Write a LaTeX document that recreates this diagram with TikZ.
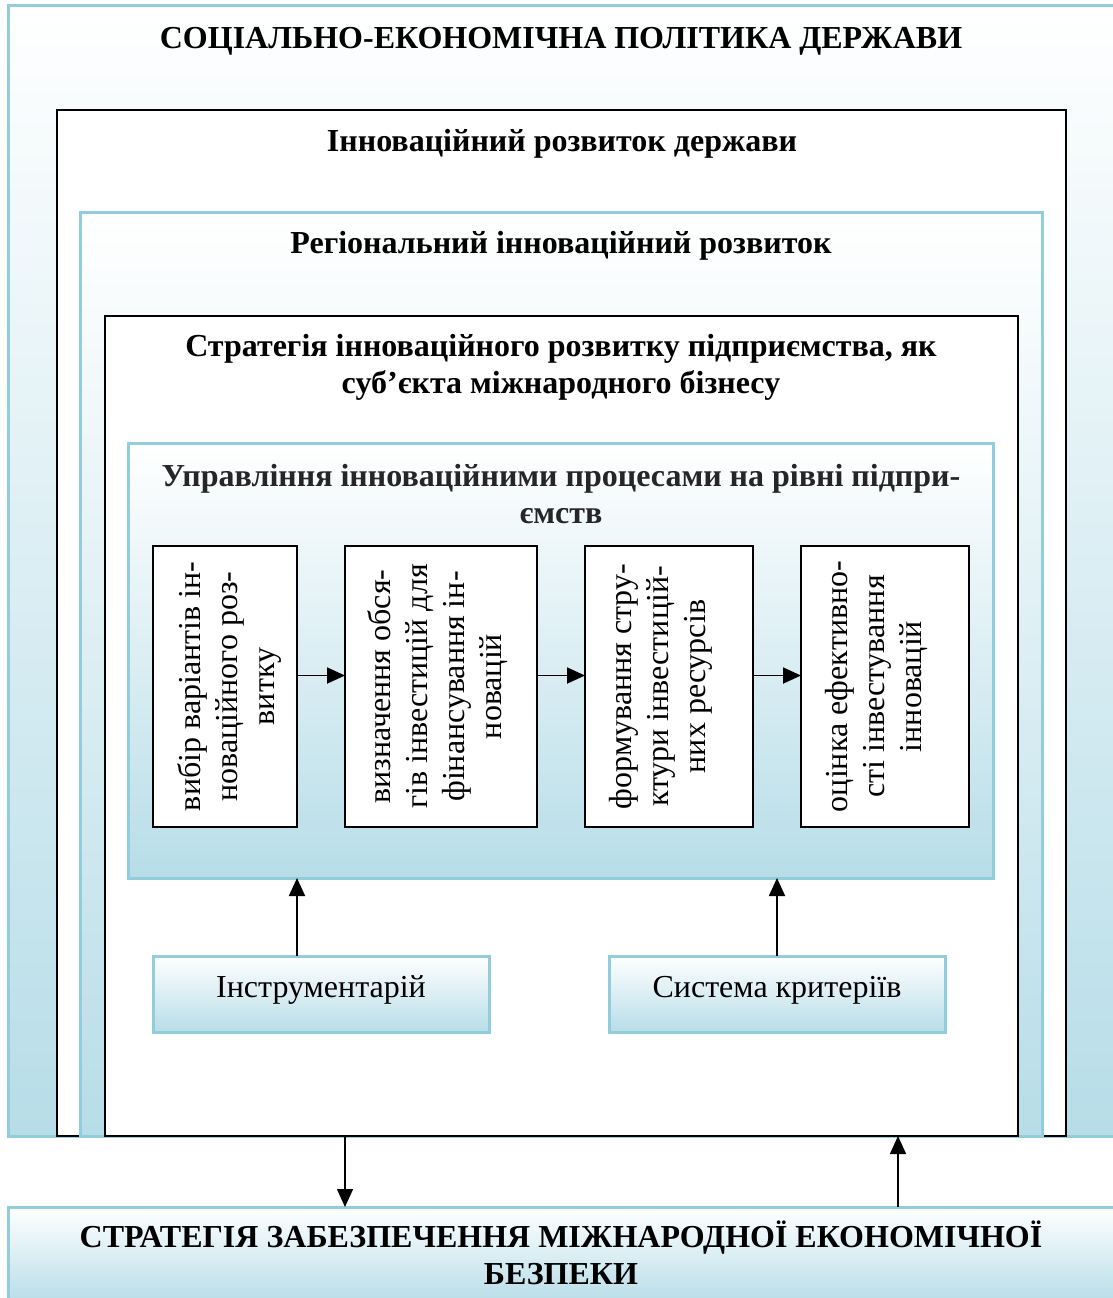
\documentclass[tikz,border=0pt]{standalone}
\usepackage{fontspec}
\setmainfont{Liberation Serif}
\usetikzlibrary{arrows.meta,positioning}
\definecolor{framecol}{HTML}{92CDDC}
\definecolor{gradcol}{HTML}{B7DDE8}

\begin{document}
\begin{tikzpicture}[
        x=1pt, y=-1pt,
        every node/.style={inner sep=0pt, outer sep=0pt, font=\fontsize{32}{37}\selectfont},
        blueframe/.style={rectangle, draw=framecol, line width=3pt, top color=white, bottom color=gradcol, anchor=north west},
        blackframe/.style={rectangle, draw=black, line width=1.8pt, fill=white, anchor=north west},
        title/.style={font=\fontsize{32}{37}\selectfont\bfseries, align=center},
        procbox/.style={rectangle, draw=black, line width=1.8pt, fill=white, minimum height=281pt, anchor=north west},
        vtext/.style={rotate=90, align=center, anchor=north},
        toolbox/.style={rectangle, draw=framecol, line width=3pt, top color=white, bottom color=gradcol, minimum width=336pt, minimum height=76pt, anchor=north west},
        arrow/.style={line width=1.8pt, -{Triangle[length=18pt, width=16pt]}}
        ]
        \useasboundingbox (0,0) rectangle (1112,1298);

        % Nested frames
        \node[blueframe, minimum width=1112pt, minimum height=1130pt] (polityka) at (8,6) {};
        \node[blackframe, minimum width=1009pt, minimum height=1026pt] (derzhava) at (57,110) {};
        \node[blueframe, minimum width=962pt, minimum height=924pt] (region) at (80,212) {};
        \node[blackframe, minimum width=913pt, minimum height=820pt] (strat) at (105,316) {};
        \node[blueframe, minimum width=865pt, minimum height=435pt] (upravl) at (128,443) {};

        % Frame titles
        \node[title] (polityka-t) at (561,41) {СОЦІАЛЬНО-ЕКОНОМІЧНА ПОЛІТИКА ДЕРЖАВИ};
        \node[title] (derzhava-t) at (562,144) {Інноваційний розвиток держави};
        \node[title] (region-t) at (561,246) {Регіональний інноваційний розвиток};
        \node[title] (strat-t) at (561,367) {Стратегія інноваційного розвитку підприємства, як\\суб’єкта міжнародного бізнесу};
        \node[title, text=black!85] (upravl-t) at (561,494) {Управління інноваційними процесами на рівні підпри-\\ємств};

        % Process steps (vertical text)
        \node[procbox, minimum width=144pt] (vybir) at (153,546) {};
        \node[procbox, minimum width=192pt] (obsiah) at (345,546) {};
        \node[procbox, minimum width=168pt] (struktura) at (585,546) {};
        \node[procbox, minimum width=168pt] (otsinka) at (801,546) {};

        \node[vtext] (vybir-t) at ([xshift=25pt]vybir.west) {вибір варіантів ін-\\новаційного роз-\\витку};
        \node[vtext] (obsiah-t) at ([xshift=23pt]obsiah.west) {визначення обся-\\гів інвестицій для\\фінансування ін-\\новацій};
        \node[vtext] (struktura-t) at ([xshift=24pt]struktura.west) {формування стру-\\ктури інвестицій-\\них ресурсів};
        \node[vtext] (otsinka-t) at ([xshift=24pt]otsinka.west) {оцінка ефективно-\\сті інвестування\\інновацій};

        \draw[arrow] ([yshift=11pt]vybir.east) -- ([yshift=11pt]obsiah.west);
        \draw[arrow] ([yshift=11pt]obsiah.east) -- ([yshift=11pt]struktura.west);
        \draw[arrow] ([yshift=11pt]struktura.east) -- ([yshift=11pt]otsinka.west);

        % Tools
        \node[toolbox, text depth=14pt] (instr) at (153,956) {Інструментарій};
        \node[toolbox, text depth=14pt] (kryterii) at (609,956) {Система критеріїв};

        \draw[arrow] ([xshift=-24pt]instr.north) -- ([xshift=-24pt]instr.north |- upravl.south);
        \draw[arrow] (kryterii.north) -- (kryterii.north |- upravl.south);

        % International economic security
        \node[blueframe, minimum width=1112pt, minimum height=96pt] (bezpeka) at (8,1207) {};
        \node[title] (bezpeka-t) at (561,1253) {СТРАТЕГІЯ ЗАБЕЗПЕЧЕННЯ МІЖНАРОДНОЇ ЕКОНОМІЧНОЇ\\БЕЗПЕКИ};

        \coordinate (downtop) at ([xshift=240pt]strat.south west);
        \coordinate (upend) at ([xshift=793pt]strat.south west);
        \draw[arrow, line width=1.5pt] (downtop) -- (downtop |- bezpeka.north);
        \draw[arrow, line width=1.5pt] (upend |- bezpeka.north) -- (upend);

    \end{tikzpicture}
\end{document}
